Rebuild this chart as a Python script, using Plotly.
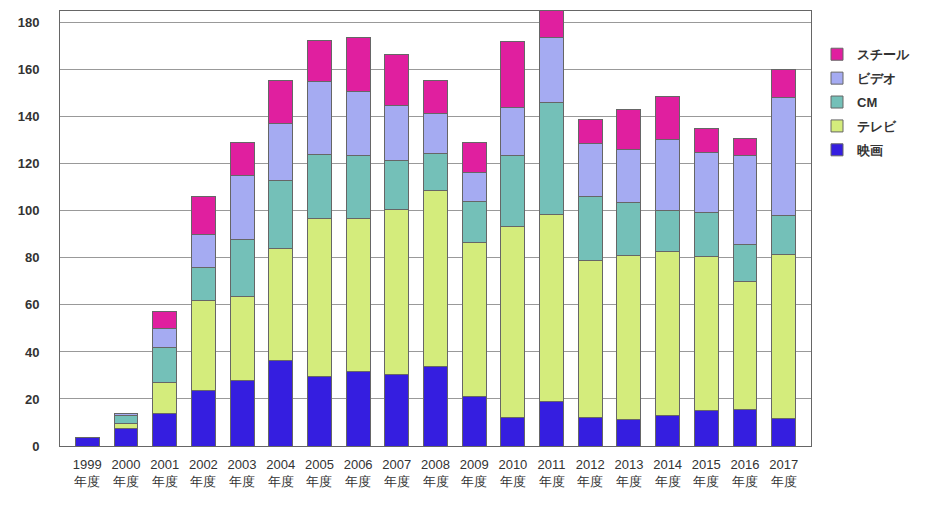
import plotly.graph_objects as go

years = ["1999", "2000", "2001", "2002", "2003", "2004", "2005", "2006", "2007", "2008",
         "2009", "2010", "2011", "2012", "2013", "2014", "2015", "2016", "2017"]
tick_labels = [y + "<br>年度" for y in years]

eiga = [3.8, 7.5, 14.0, 23.7, 27.7, 36.2, 29.5, 31.5, 30.2, 33.7, 20.9, 12.3, 19.1, 12.3, 11.1, 12.8, 14.9, 15.7, 11.5]
terebi = [None, 2.1, 13.1, 38.3, 36.0, 47.9, 67.1, 65.1, 70.2, 74.8, 65.5, 80.9, 79.2, 66.4, 69.8, 69.8, 65.5, 54.1, 69.8]
cm = [None, 3.2, 14.9, 14.0, 24.0, 28.9, 27.2, 26.8, 20.9, 15.8, 17.4, 30.2, 47.7, 27.3, 22.5, 17.4, 18.7, 15.7, 16.6]
video = [None, 1.2, 8.0, 14.0, 27.5, 24.3, 31.1, 27.2, 23.6, 17.0, 12.4, 20.4, 27.6, 22.8, 22.8, 30.5, 25.8, 38.2, 50.2]
still = [None, None, 7.0, 16.0, 13.8, 18.0, 17.4, 23.0, 21.5, 14.0, 12.8, 28.1, 14.0, 9.9, 16.8, 18.0, 10.0, 6.9, 11.9]

series = [
    ("映画", eiga, "#351ee0"),
    ("テレビ", terebi, "#d4ec7c"),
    ("CM", cm, "#74c0b8"),
    ("ビデオ", video, "#a5abf2"),
    ("スチール", still, "#e01f9f"),
]

x = list(range(len(years)))
fig = go.Figure()
n = len(series)
for i, (name, vals, color) in enumerate(series):
    fig.add_trace(go.Bar(
        x=x, y=vals, name=name, width=0.62, legendgroup=name,
        legendrank=n - i,
        marker=dict(color=color, line=dict(color="#666666", width=1)),
    ))

fig.update_layout(
    barmode="stack",
    width=921, height=499,
    margin=dict(l=52, r=118, t=3, b=61),
    paper_bgcolor="white", plot_bgcolor="white",
    font=dict(family="Liberation Sans, Arial, sans-serif", color="#333333"),
    legend=dict(
        x=1.008, y=0.935, xanchor="left", yanchor="top",
        font=dict(size=13, family="Liberation Sans, Arial, sans-serif", color="#333333", weight="bold"),
        traceorder="grouped", tracegroupgap=4,
    ),
    xaxis=dict(
        tickmode="array", tickvals=x, ticktext=tick_labels,
        range=[-0.706, 18.706],
        showgrid=False, showline=True, linecolor="#666666", linewidth=1, mirror=True,
        ticks="", tickfont=dict(size=13, color="#333333"),
        ticklabelstandoff=6,
    ),
    yaxis=dict(
        range=[0, 185], tickvals=[0, 20, 40, 60, 80, 100, 120, 140, 160, 180],
        showgrid=True, gridcolor="#999999", gridwidth=1,
        showline=True, linecolor="#666666", linewidth=1, mirror=True,
        ticks="", tickfont=dict(size=13, color="#333333", weight="bold"),
        ticklabelstandoff=17, zeroline=False,
    ),
)

fig.write_html("out.html")
